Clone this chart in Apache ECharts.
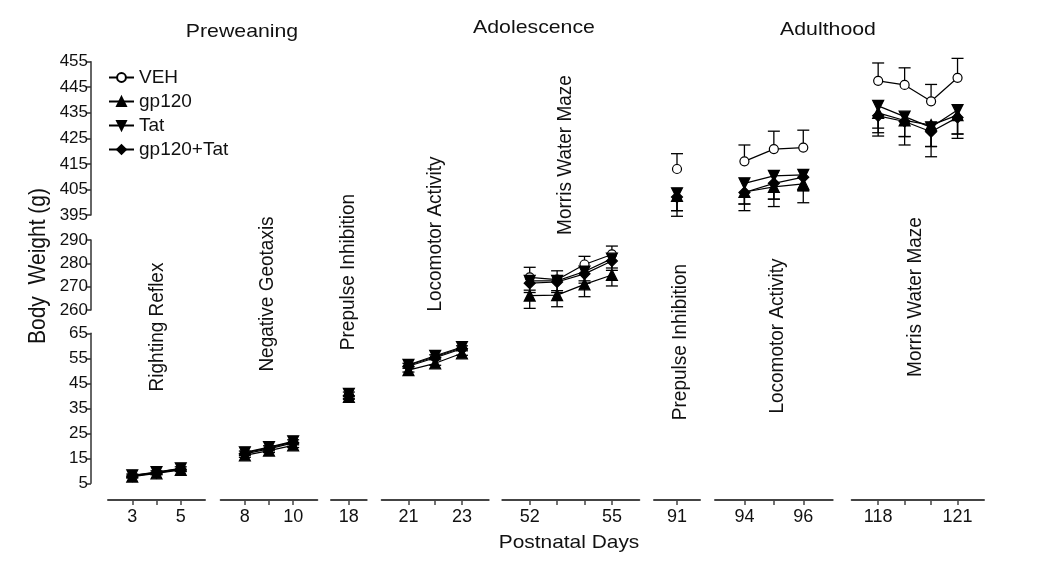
<!DOCTYPE html>
<html><head><meta charset="utf-8">
<script src="https://cdn.jsdelivr.net/npm/echarts@6/dist/echarts.min.js"></script>
<style>html,body{margin:0;padding:0;background:#fff}#c{width:1050px;height:579px}</style>
</head><body><div id="c"></div>
<script>
// ---------------- DATA ----------------
const days      = [3,4,5, 8,9,10, 18, 21,22,23, 52,53,54,55, 91, 94,95,96, 118,119,120,121];
const VEH       = [8.1,9.4,10.9, 17.2,19.2,21.6, 40.5, 52.2,55.6,59.2, 274,273,279.5,283.8, 413, 416,420.8,421.4, 447.5,445.9,439.5,448.7];
const VEH_SEM   = [0.6,0.6,0.7, 0.7,0.8,0.8, 1.0, 0.8,0.8,0.8, 4.3,3.8,3.5,3.6, 6, 6.4,7,6.8, 7,6.7,6.6,7.6];
const GP120     = [7.7,9.0,10.4, 16.2,18.1,20.2, 39.6, 50.3,53,57, 266.2,266.4,271,275, 402.5, 404,406,407.2, 435,432,430.2,434.1];
const GP120_SEM = [0.6,0.6,0.7, 0.8,0.8,0.9, 1.0, 0.8,0.8,0.8, 5.5,5,5.3,4.7, 5.8, 7.3,7.7,7.4, 7.8,6.3,8.4,7.4];
const TAT       = [8.2,9.5,11.0, 17.4,19.5,21.8, 40.8, 52.4,56,59.5, 272.5,272.5,276.5,282, 403.5, 407.4,410.3,410.7, 437.7,433.5,429.3,436.1];
const TAT_SEM   = [0.6,0.6,0.7, 0.7,0.8,0.8, 1.0, 0.8,0.8,0.8, 4,4.2,4,4, 6.8, 8.1,9.1,6.2, 8.7,7.8,7.5,9.4];
const COMBO     = [7.9,9.2,10.6, 16.8,18.8,21.2, 40.0, 51.8,55.2,58.8, 271.5,272,275.5,281, 402, 403.8,407.4,409.8, 433.8,431.6,427.6,433.2];
const COMBO_SEM = [0.6,0.6,0.7, 0.7,0.8,0.8, 1.0, 0.8,0.8,0.8, 4,4.5,4,4, 7.5, 4.5,6.2,5.3, 7.9,9.2,9.8,8.2];
const seriesNames = ['VEH','gp120','Tat','gp120+Tat'];
const groupDays   = [[3,4,5],[8,9,10],[18],[21,22,23],[52,53,54,55],[91],[94,95,96],[118,119,120,121]];
const groupLabels = [[3,5],[8,10],[18],[21,23],[52,55],[91],[94,96],[118,121]];
const groupRange  = [[2,6],[7,11],[17,19],[20,24],[51,56],[90,92],[93,97],[117,122]];
const yRanges     = {low:[5,65], mid:[260,290], high:[395,455]};
const yTicks      = {low:10, mid:10, high:10};
const phaseTitles = ['Preweaning','Adolescence','Adulthood'];
const testLabels  = ['Righting Reflex','Negative Geotaxis','Prepulse Inhibition','Locomotor Activity','Morris Water Maze','Prepulse Inhibition','Locomotor Activity','Morris Water Maze'];
const xTitle = 'Postnatal Days';
const yTitle = 'Body  Weight (g)';

// ---------------- LAYOUT ----------------
const FONT = '"Liberation Sans", Arial, Helvetica, sans-serif';
const gridX = [[108,97],[220.7,96.6],[331,35.7],[381.7,107],[502.3,137],[654,46],[715,117.7],[851.7,132.3]];
const groupSeg = ['low','low','low','low','mid','high','high','high'];
const segBox = {low:[333.3,150], mid:[240,70], high:[61.7,153.3]};
const XAXIS_Y = 500;
const titlePos = [[242,32],[534,28],[828,30]];
const testPos = [[157,327],[267,294],[348,272],[435,234],[565,155],[680,342],[777,336],[915,297]];
const styles = [
  {symbol:'circle', size:9, fill:'#fff', dir:1},
  {symbol:'triangle', size:11, fill:'#000', dir:-1},
  {symbol:'path://M0,0 L10,0 L5,9 Z', size:11, fill:'#000', dir:-1},
  {symbol:'diamond', size:11, fill:'#000', dir:-1}
];
const means = [VEH, GP120, TAT, COMBO];
const sems = [VEH_SEM, GP120_SEM, TAT_SEM, COMBO_SEM];

const grid = [], xAxis = [], yAxis = [], series = [];
gridX.forEach((g, i) => {
  const seg = groupSeg[i];
  const [top, h] = segBox[seg];
  grid.push({left:g[0], width:g[1], top:top, height:h, containLabel:false});
  xAxis.push({
    type:'value', gridIndex:i, min:groupRange[i][0], max:groupRange[i][1],
    offset: XAXIS_Y - (top + h),
    axisLine:{show:true, lineStyle:{color:'#444', width:2}},
    axisTick:{show:true, length:5, inside:false, lineStyle:{color:'#444', width:1.5}, customValues:groupDays[i]},
    axisLabel:{show:true, customValues:groupLabels[i], margin:8, fontSize:18, color:'#111', fontFamily:FONT},
    splitLine:{show:false}
  });
  yAxis.push({type:'value', gridIndex:i, min:yRanges[seg][0], max:yRanges[seg][1], show:false, splitLine:{show:false}});
});
// axis-only grids for the broken y axis
['low','mid','high'].forEach((seg) => {
  const [top, h] = segBox[seg];
  const gi = grid.length;
  grid.push({left:91, width:1, top:top, height:h});
  xAxis.push({type:'value', gridIndex:gi, min:0, max:1, show:false});
  yAxis.push({
    type:'value', gridIndex:gi, min:yRanges[seg][0], max:yRanges[seg][1], interval:yTicks[seg],
    axisLine:{show:true, lineStyle:{color:'#333', width:1.5}},
    axisTick:{show:true, length:5, lineStyle:{color:'#333', width:1.5}},
    axisLabel:{fontSize:17, color:'#111', margin:3, fontFamily:FONT},
    splitLine:{show:false}
  });
});

function errRender(params, api) {
  const x = api.value(0), m = api.value(1), e = api.value(2), d = api.value(3);
  const p0 = api.coord([x, m]);
  const p1 = api.coord([x, m + d * e]);
  const st = {stroke:'#000', lineWidth:1.3};
  return {type:'group', children:[
    {type:'line', shape:{x1:p0[0], y1:p0[1], x2:p1[0], y2:p1[1]}, style:st},
    {type:'line', shape:{x1:p1[0]-6, y1:p1[1], x2:p1[0]+6, y2:p1[1]}, style:st}
  ]};
}

groupDays.forEach((gd, gi) => {
  seriesNames.forEach((nm, t) => {
    const data = gd.map(d => { const k = days.indexOf(d); return [d, means[t][k], sems[t][k], styles[t].dir]; });
    series.push({type:'custom', xAxisIndex:gi, yAxisIndex:gi, renderItem:errRender, data:data, encode:{x:0, y:1}, z:1, silent:true, clip:false});
  });
});
groupDays.forEach((gd, gi) => {
  [0,1,2,3].forEach(t => {
    const data = gd.map(d => [d, means[t][days.indexOf(d)]]);
    series.push({
      type:'line', name:seriesNames[t], xAxisIndex:gi, yAxisIndex:gi, data:data,
      symbol:styles[t].symbol, symbolSize:styles[t].size, showSymbol:true,
      lineStyle:{color:'#000', width:1.2},
      itemStyle:{color:styles[t].fill, borderColor:'#000', borderWidth:1.2},
      z:2, animation:false, clip:false
    });
  });
});

const graphic = [];
phaseTitles.forEach((t, i) => graphic.push({type:'text', x:titlePos[i][0], y:titlePos[i][1], scaleX:1.12,
  style:{text:t, fontSize:19, fontFamily:FONT, fill:'#111', textAlign:'center', textVerticalAlign:'middle'}}));
testLabels.forEach((t, i) => graphic.push({type:'text', x:testPos[i][0], y:testPos[i][1], rotation:Math.PI/2, scaleY:1.1,
  style:{text:t, fontSize:19, fontFamily:FONT, fill:'#111', textAlign:'center', textVerticalAlign:'middle'}}));
graphic.push({type:'text', x:569, y:543, scaleX:1.1, style:{text:xTitle, fontSize:19, fontFamily:FONT, fill:'#111', textAlign:'center', textVerticalAlign:'middle'}});
graphic.push({type:'text', x:39, y:266, rotation:Math.PI/2, scaleY:1.1, style:{text:yTitle, fontSize:21, fontFamily:FONT, fill:'#111', textAlign:'center', textVerticalAlign:'middle'}});

const chart = echarts.init(document.getElementById('c'), null, {renderer:'canvas'});
chart.setOption({
  animation:false,
  backgroundColor:'#fff',
  grid, xAxis, yAxis, series, graphic,
  legend:{
    data:seriesNames, orient:'vertical', left:108, top:68, padding:0, itemGap:5, itemWidth:25, itemHeight:11,
    textStyle:{fontSize:19, fontFamily:FONT, color:'#111'}, selectedMode:false
  }
});
</script></body></html>
